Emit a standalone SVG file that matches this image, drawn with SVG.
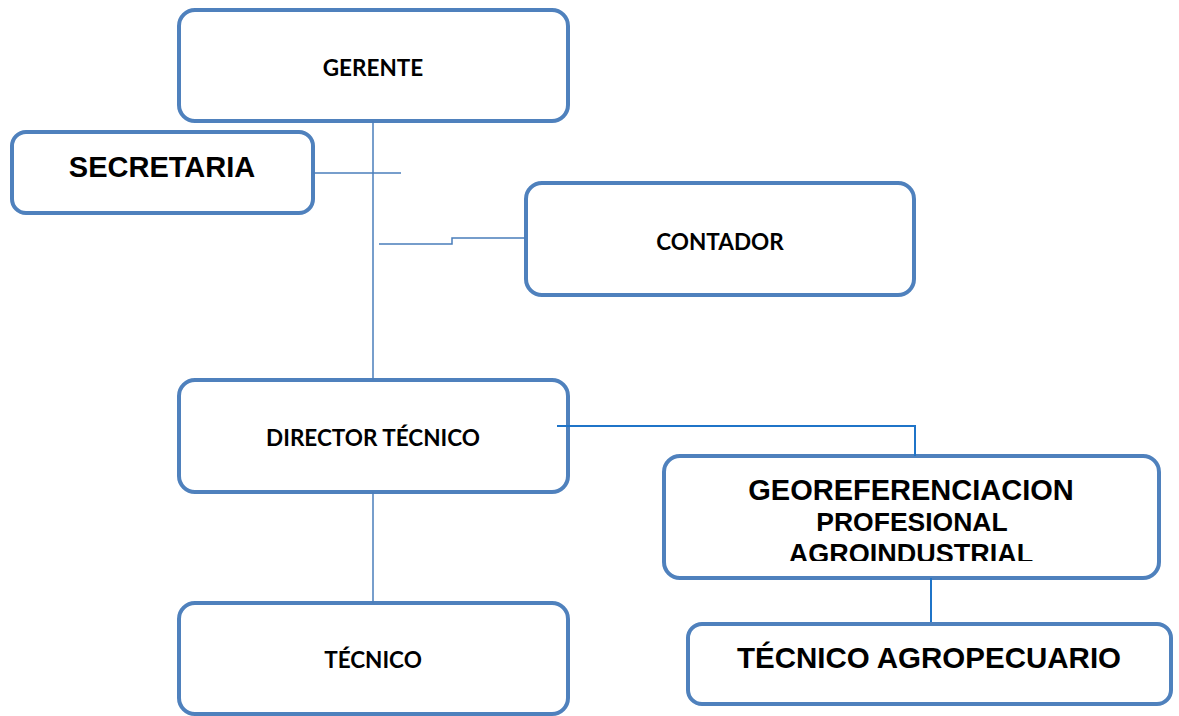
<svg xmlns="http://www.w3.org/2000/svg" width="1179" height="716" viewBox="0 0 1179 716">
<defs>
<style>
.box{fill:#fff;stroke:#4F81BD;stroke-width:4}
.cal{font-family:Lato,"Open Sans","Liberation Sans",sans-serif;font-weight:bold;font-size:22.5px;fill:#000;text-anchor:middle}
.ari{font-family:"Liberation Sans",Arial,sans-serif;font-weight:bold;fill:#000;text-anchor:middle}
.ln{fill:none;stroke:#4A7EBB;stroke-width:1.5}
.ln2{fill:none;stroke:#1F74C8;stroke-width:2}
</style>
<clipPath id="geoclip"><rect x="664" y="456" width="495" height="105"/></clipPath>
</defs>
<g id="gerente">
<rect class="box" x="179" y="10" width="389" height="111" rx="16"/>
<text class="cal" x="373" y="76">GERENTE</text>
</g>
<g id="secretaria">
<rect class="box" x="12" y="132" width="301" height="81" rx="14"/>
<text class="ari" x="162" y="177" font-size="29">SECRETARIA</text>
</g>
<g id="contador">
<rect class="box" x="526" y="183" width="388" height="112" rx="16"/>
<text class="cal" x="720" y="250">CONTADOR</text>
</g>
<g id="director">
<rect class="box" x="179" y="380" width="389" height="112" rx="16"/>
<text class="cal" x="373" y="446">DIRECTOR TÉCNICO</text>
</g>
<g id="tecnico">
<rect class="box" x="179" y="603" width="389" height="111" rx="16"/>
<text class="cal" x="373" y="668">TÉCNICO</text>
</g>
<g id="georeferenciacion">
<rect class="box" x="664" y="456" width="495" height="122" rx="16"/>
<g clip-path="url(#geoclip)">
<text class="ari" x="911" y="500" font-size="29">GEOREFERENCIACION</text>
<text class="ari" x="912" y="531" font-size="26.5">PROFESIONAL</text>
<text class="ari" x="911" y="563" font-size="27">AGROINDUSTRIAL</text>
</g>
</g>
<g id="tecnico-agropecuario">
<rect class="box" x="688" y="624" width="483" height="80" rx="14"/>
<text class="ari" x="929" y="668" font-size="29.5">TÉCNICO AGROPECUARIO</text>
</g>
<g id="connectors">
<line class="ln" x1="373" y1="121" x2="373" y2="380"/>
<line class="ln" x1="313" y1="173" x2="401" y2="173"/>
<polyline class="ln" points="379,244 452,244 452,238 525,238"/>
<line class="ln" x1="373" y1="492" x2="373" y2="603"/>
<polyline class="ln2" points="557,426 915,426 915,456"/>
<line class="ln2" x1="931" y1="578" x2="931" y2="622"/>
</g>
</svg>
